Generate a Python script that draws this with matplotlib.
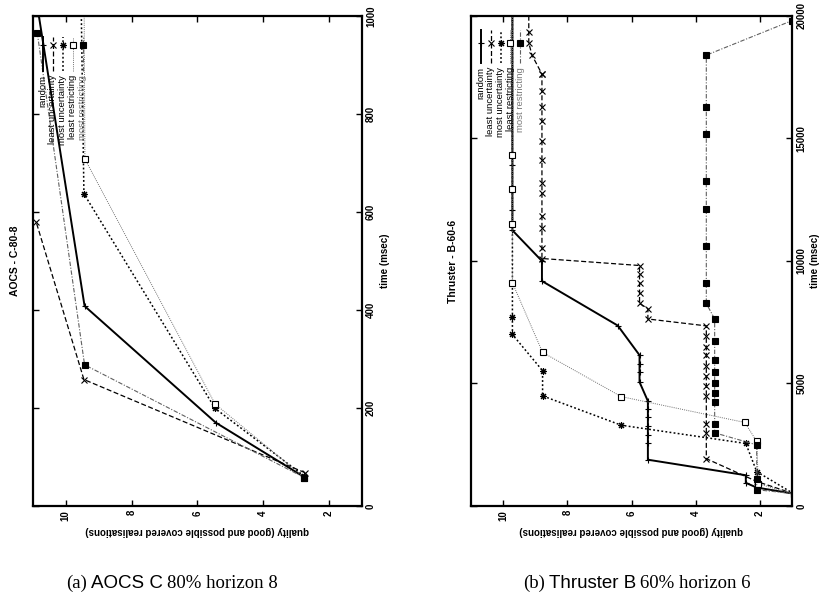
import matplotlib
matplotlib.use('Agg')
import matplotlib.pyplot as plt
from matplotlib.lines import Line2D

plt.rcParams['font.family'] = ['Liberation Sans', 'DejaVu Sans']

series_names = ['random', 'least uncertainty', 'most uncertainty',
                'least restricting', 'most restricting']

# (a) AOCS C-80-8 : quality (x) vs time in msec (y)
aocs_q = {
    'random':            [2.75, 5.44, 9.43, 10.82],
    'least uncertainty': [2.73, 9.45, 10.9],
    'most uncertainty':  [2.75, 5.46, 9.45, 9.55],
    'least restricting': [2.75, 5.46, 9.42, 9.45],
    'most restricting':  [2.75, 9.43, 10.87],
}
aocs_t = {
    'random':            [59, 170, 408, 1000],
    'least uncertainty': [68, 258, 579],
    'most uncertainty':  [61, 199, 637, 1100],
    'least restricting': [58, 208, 708, 1100],
    'most restricting':  [58, 288, 966],
}

# (b) Thruster B-60-6
thr_q = {
    'random': [0.95, 2.1, 2.44, 2.44, 5.49, 5.49, 5.49, 5.49, 5.49, 5.49, 5.49,
               5.75, 5.75, 5.75, 5.75, 6.43, 8.79, 8.79, 9.71, 9.71, 9.71,
               9.71, 9.71, 9.71],
    'least uncertainty': [0.95, 2.1, 3.67, 3.67, 3.67, 3.67, 3.67, 3.67, 3.67,
                          3.67, 3.67, 3.67, 3.67, 5.49, 5.49, 5.75, 5.75, 5.75,
                          5.75, 5.75, 8.79, 8.79, 8.79, 8.79, 8.79, 8.79, 8.79,
                          8.79, 8.79, 8.79, 8.79, 8.79, 8.79, 9.1, 9.2, 9.2, 9.2],
    'most uncertainty': [0.95, 2.1, 2.44, 6.32, 8.77, 8.77, 9.71, 9.71, 9.71],
    'least restricting': [0.95, 2.05, 2.1, 2.47, 6.32, 8.77, 9.71, 9.71, 9.71,
                          9.71, 9.71],
    'most restricting': [0.95, 2.1, 2.1, 2.1, 3.41, 3.41, 3.41, 3.41, 3.41, 3.41,
                         3.41, 3.41, 3.41, 3.67, 3.67, 3.67, 3.67, 3.67, 3.67,
                         3.67, 3.67, 1.0],
}
thr_t = {
    'random': [500, 750, 943, 1253, 1887, 2563, 2915, 3267, 3619, 3971, 4280,
               5055, 5449, 5801, 6153, 7364, 9180, 9997, 11250, 12100, 13000,
               13900, 14400, 20500],
    'least uncertainty': [500, 1000, 1929, 2985, 3337, 4480, 4886, 5308, 5731,
                          6153, 6505, 6927, 7350, 7631, 8054, 8265, 8688, 9110,
                          9462, 9814, 10100, 10518, 11363, 11855, 12771, 13193,
                          14108, 14883, 15727, 16291, 16924, 17628, 17628, 18400,
                          18900, 19350, 21000],
    'most uncertainty': [500, 1400, 2550, 3295, 4492, 5519, 6998, 7702, 20500],
    'least restricting': [500, 900, 2633, 3407, 4463, 6266, 9110, 11503, 12940,
                          14320, 20500],
    'most restricting': [500, 662, 1084, 2492, 2985, 3337, 4252, 4600, 5030,
                         5450, 5940, 6716, 7631, 8265, 9110, 10590, 12140, 13264,
                         15165, 16290, 18400, 19810],
}

styles = {
    'random':            dict(color='black', ls='-', lw=1.4, marker='+', ms=4.5, mfc='black'),
    'least uncertainty': dict(color='black', ls=(0, (4, 2)), lw=0.9, marker='x', ms=4, mfc='black'),
    'most uncertainty':  dict(color='black', ls=(0, (1.2, 1.5)), lw=1.1, marker=(8, 2, 0), ms=5, mfc='black'),
    'least restricting': dict(color='#707070', ls=(0, (1, 1.2)), lw=0.7, marker='s', ms=4, mfc='white'),
    'most restricting':  dict(color='#606060', ls=(0, (4, 1.5, 1, 1.5)), lw=0.8, marker='s', ms=4, mfc='black'),
}
legend_text_color = ['black', 'black', 'black', 'black', '#777777']

fig = plt.figure(figsize=(8.24, 6.14), dpi=100)
ax1 = fig.add_axes([0.040, 0.176, 0.399, 0.798])
ax2 = fig.add_axes([0.5716, 0.176, 0.3896, 0.798])


def draw_panel(ax, qd, td, tmax, tstep, title, leg_x, leg_y):
    for name in series_names:
        st = styles[name]
        ax.plot(qd[name], td[name], color=st['color'], linestyle=st['ls'], linewidth=st['lw'],
                marker=st['marker'], markersize=st['ms'], markerfacecolor=st['mfc'],
                markeredgecolor='black', markeredgewidth=0.8)
    ax.set_xlim(11, 1)
    ax.set_ylim(0, tmax)
    ax.set_xticks([10, 8, 6, 4, 2])
    ax.set_yticks(range(0, tmax + 1, tstep))
    ax.yaxis.tick_right()
    ax.yaxis.set_label_position('right')
    ax.tick_params(axis='both', direction='in', length=4, width=1,
                   top=True, bottom=True, left=True, right=True,
                   labelsize=7)
    ax.tick_params(axis='x', pad=3)
    ax.tick_params(axis='y', pad=3)
    for lbl in ax.get_xticklabels():
        lbl.set_rotation(90)
        lbl.set_fontweight('bold')
    for lbl in ax.get_yticklabels():
        lbl.set_rotation(90)
        lbl.set_va('center')
        lbl.set_fontweight('bold')
    for sp in ax.spines.values():
        sp.set_linewidth(1.6)
    ax.set_xlabel('quality (good and possible covered realisations)', rotation=180,
                  fontsize=7, fontweight='bold', labelpad=4)
    ax.set_ylabel('time (msec)', rotation=90, fontsize=7, fontweight='bold', labelpad=3)
    ax.text(-0.055, 0.5, title, rotation=90, ha='center', va='center',
            transform=ax.transAxes, fontsize=7.5, fontweight='bold')

    # legend, rotated like the rest of the plot
    y_text, y0, y1, y_mark = leg_y
    for i, name in enumerate(series_names):
        st = styles[name]
        x = leg_x[i]
        ax.text(x, y_text, name, rotation=90, ha='center', va='top',
                transform=ax.transAxes, fontsize=6.8, color=legend_text_color[i])
        ax.add_line(Line2D([x, x], [y0, y1], transform=ax.transAxes, color=st['color'],
                           linestyle=st['ls'], linewidth=st['lw']))
        ax.add_line(Line2D([x], [y_mark], transform=ax.transAxes, marker=st['marker'],
                           markersize=st['ms'], markerfacecolor=st['mfc'],
                           markeredgecolor='black', markeredgewidth=0.8, linestyle='none'))


draw_panel(ax1, aocs_q, aocs_t, 1000, 200, 'AOCS - C-80-8',
           [0.030, 0.060, 0.091, 0.121, 0.151], (0.880, 0.888, 0.957, 0.941))
draw_panel(ax2, thr_q, thr_t, 20000, 5000, 'Thruster - B-60-6',
           [0.030, 0.061, 0.092, 0.123, 0.154], (0.896, 0.904, 0.971, 0.945))

# captions mixing serif and sans
renderer = fig.canvas.get_renderer()


def caption(cx, y, parts, size=13.5):
    texts = []
    for s, fam in parts:
        texts.append(fig.text(0, y, s, fontsize=size, family=fam, va='center', ha='left'))
    gap = 4.0
    widths = [t.get_window_extent(renderer).width for t in texts]
    total = sum(widths) + gap * (len(texts) - 1)
    x = cx * fig.bbox.width - total / 2
    for t, w in zip(texts, widths):
        t.set_x(x / fig.bbox.width)
        x += w + gap


caption(172 / 824, 1 - 583 / 614, [('(a)', 'Liberation Serif'), ('AOCS C', 'Liberation Sans'),
                                   ('80% horizon 8', 'Liberation Serif')])
caption(637 / 824, 1 - 583 / 614, [('(b)', 'Liberation Serif'), ('Thruster B', 'Liberation Sans'),
                                   ('60% horizon 6', 'Liberation Serif')])

fig.savefig('out.png', dpi=100)
